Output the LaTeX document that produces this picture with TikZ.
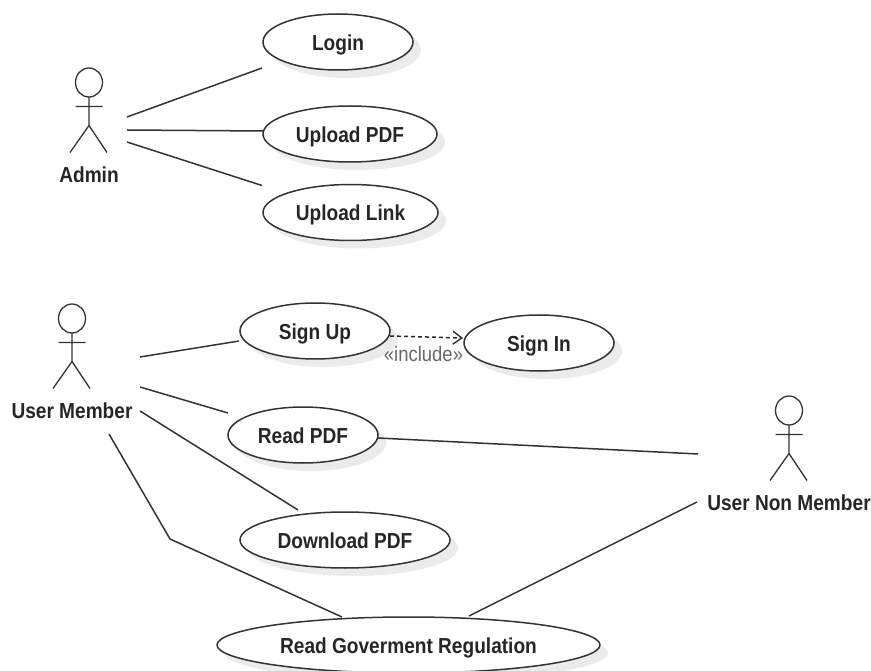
\documentclass[tikz,border=0pt]{standalone}
\usepackage{fontspec}
\setmainfont[FakeStretch=0.88]{Liberation Sans}
\usetikzlibrary{positioning}
\usetikzlibrary{arrows.meta}
\usetikzlibrary{shapes.geometric,shadows}

\begin{document}
\begin{tikzpicture}[x=1pt,y=-1pt,every node/.style={outer sep=0pt},
 assoc/.style={line width=1.5pt,draw=black!80},
 usecase/.style={ellipse,draw=black!80,line width=1.5pt,fill=white,inner sep=0pt,
 minimum height=56pt,minimum width=#1,font=\fontsize{21.7}{24}\selectfont\bfseries,
 text=black!85,text height=17pt,text depth=0pt,
 drop shadow={shadow xshift=8pt,shadow yshift=-8pt,fill=black!8,opacity=1}},
 actorname/.style={font=\fontsize{21.7}{24}\selectfont\bfseries,text=black!85,
 inner sep=0pt,text height=15pt,text depth=0pt},
 actor/.pic={\draw[line width=1.3pt,draw=black!80] (0,0) ellipse (13.5 and 14.5);
 \draw[line width=1.3pt,draw=black!80] (0,14.5) -- (0,43) (-13.5,24) -- (13.5,24)
 (-19,70) -- (0,43) -- (18,70);}]

  \useasboundingbox (0,0) rectangle (871,671);

  % use cases
  \node[usecase=150pt] (login) at (338,42) {Login};
  \node[usecase=174pt] (uploadpdf) at (350,134) {Upload PDF};
  \node[usecase=175pt] (uploadlink) at (350.5,212.5) {Upload Link};
  \node[usecase=150pt] (signup) at (315,331) {Sign Up};
  \node[usecase=150pt] (signin) at (539,343) {Sign In};
  \node[usecase=150pt] (readpdf) at (303,435) {Read PDF};
  \node[usecase=210pt] (downloadpdf) at (345,540) {Download PDF};
  \node[usecase=383pt] (regulation) at (408.5,645) {Read Goverment Regulation};

  % actors
  \pic at (89,82.5) {actor};
  \node[actorname] (admin) at (89,175) {Admin};
  \pic at (72,318.5) {actor};
  \node[actorname] (member) at (72,411) {User Member};
  \pic at (789,410.5) {actor};
  \node[actorname] (nonmember) at (789,503) {User Non Member};

  \coordinate (a1) at (127,117);
  \coordinate (a2) at (127,130);
  \coordinate (a3) at (127,142);
  \coordinate (m1) at (140,357);
  \coordinate (m2) at (140,387);
  \coordinate (m3) at (140,411);
  \coordinate (m4) at (109,434);
  \coordinate (bend) at (170,539);
  \coordinate (n1) at (698,454);
  \coordinate (n2) at (697,502);

  \draw[assoc] (a1) -- ([shift={(-1,26)}]login.west);
  \draw[assoc] (a2) -- ([shift={(0,-3)}]uploadpdf.west);
  \draw[assoc] (a3) -- ([shift={(-1,-27)}]uploadlink.west);

  \draw[assoc] (m1) -- ([shift={(-1,10)}]signup.west);
  \draw[assoc] (m2) -- ([shift={(0,-22)}]readpdf.west);
  \draw[assoc] (m3) -- ([shift={(-47,-2)}]downloadpdf.north);
  \draw[assoc] (m4) -- (bend) -- ([shift={(-66.5,0)}]regulation.north);

  \draw[assoc] ([shift={(0,3)}]readpdf.east) -- (n1);
  \draw[assoc] ([shift={(60.5,-1)}]regulation.north) -- (n2);

  \draw[line width=1.5pt,draw=black!85,dash pattern=on 4pt off 3pt,
   -{Straight Barb[length=9pt,width=13pt,line width=1.3pt]}]
   ([shift={(0,5)}]signup.east) -- ([shift={(-1,-5)}]signin.west)
   node[midway,below=9pt,xshift=-3pt,inner sep=0pt,text=black!60,font=\fontsize{21}{24}\selectfont] (incl) {«include»};
\end{tikzpicture}
\end{document}
